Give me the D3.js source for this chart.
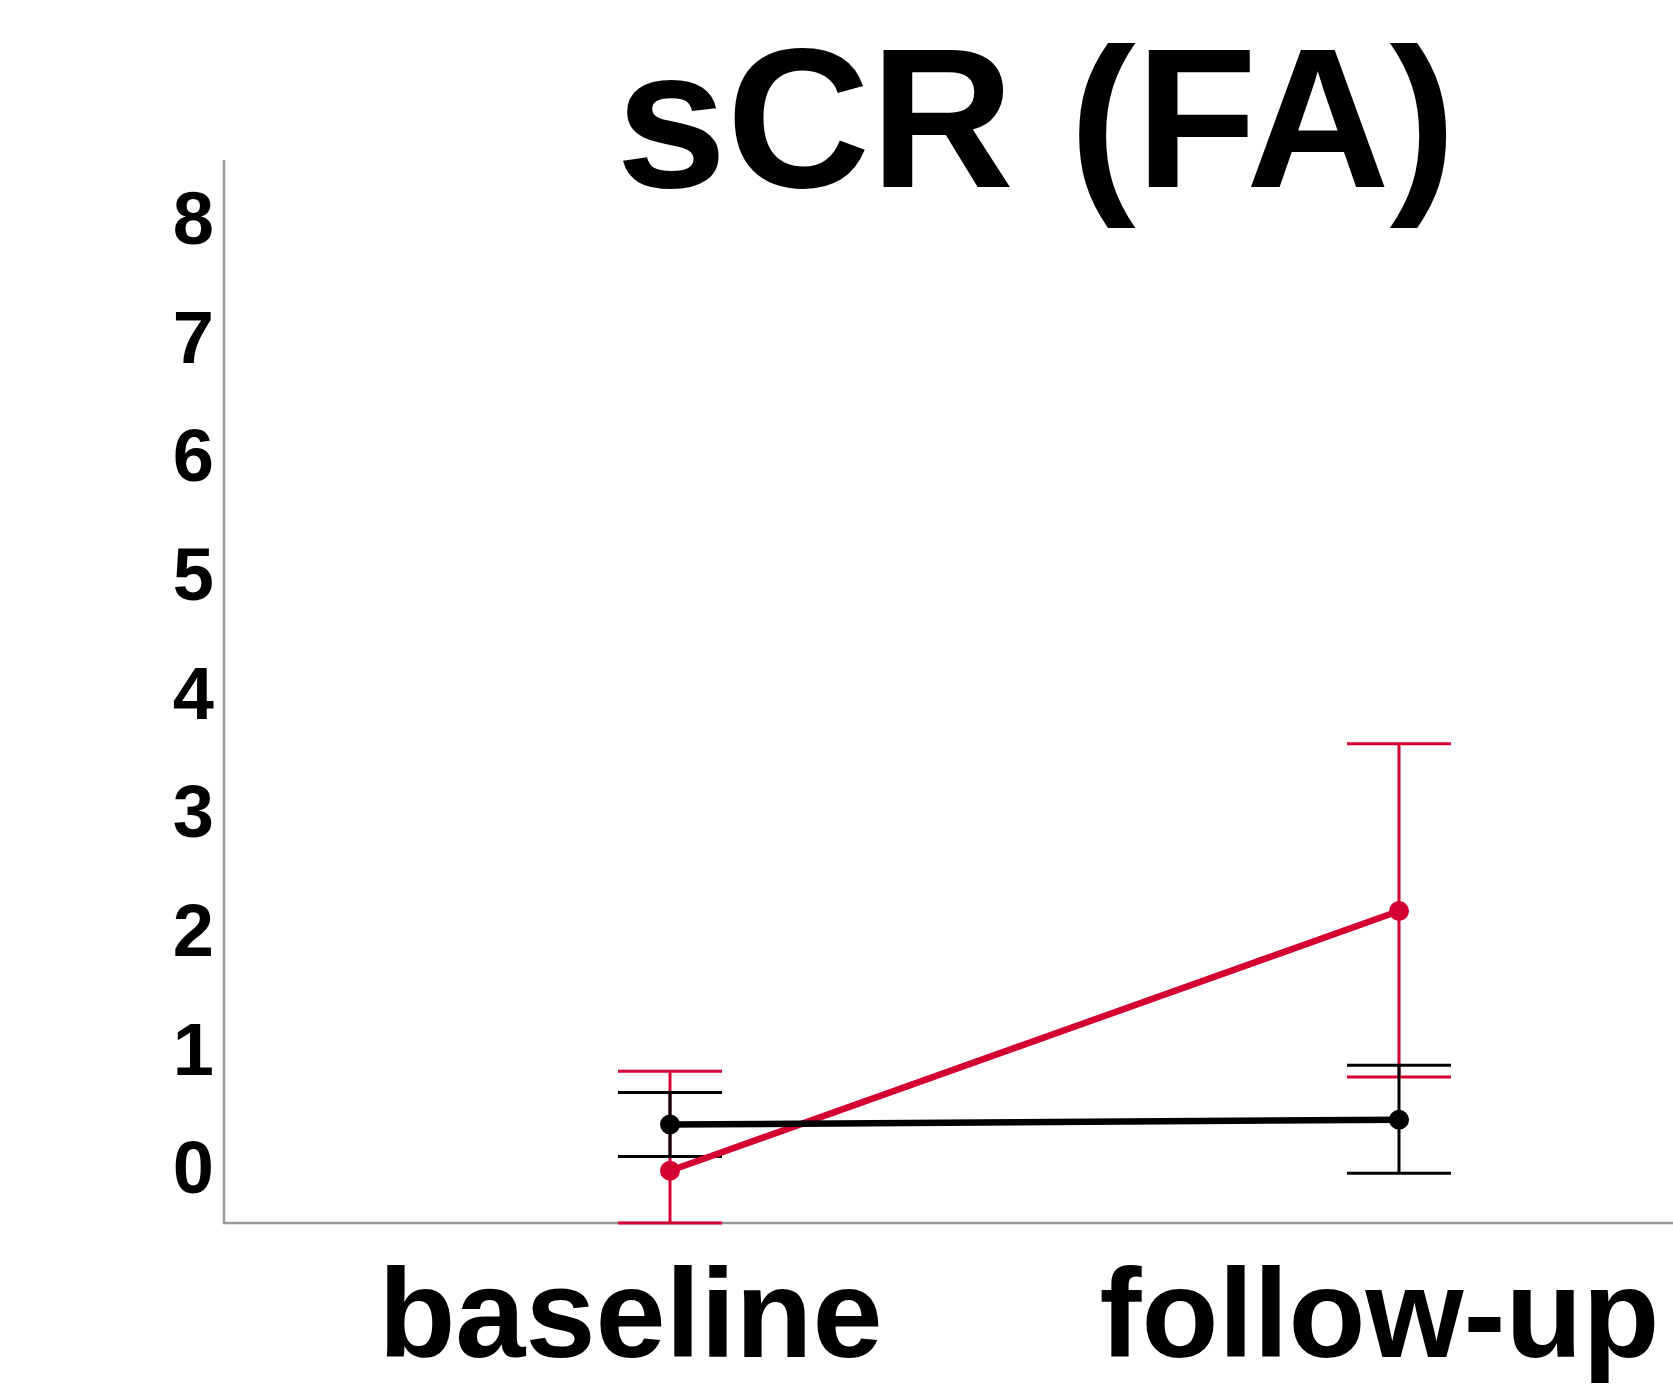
<!DOCTYPE html>
<html>
<head>
<meta charset="utf-8">
<title>sCR (FA)</title>
<script src="https://cdn.jsdelivr.net/npm/d3@7"></script>
<style>
  html, body { margin: 0; padding: 0; background: #ffffff; }
  svg { display: block; }
  text { font-family: "Liberation Sans", Arial, Helvetica, sans-serif; font-weight: bold; fill: #000; }
</style>
</head>
<body>
<svg id="chart" width="1673" height="1391"></svg>
<script>
// Time points
const timepoints = ["baseline", "follow-up"];
// Group means (sCR, FA)
const blackMeans = [0.35, 0.39];
const redMeans   = [-0.04, 2.15];
// Error bar bounds
const blackLower = [0.08, -0.06];
const blackUpper = [0.62, 0.85];
const redLower   = [-0.48, 0.75];
const redUpper   = [0.80, 3.56];
// Y tick labels
const yTicks = [0, 1, 2, 3, 4, 5, 6, 7, 8];

const series = [
  { color: "#d50032", means: redMeans, lower: redLower, upper: redUpper },
  { color: "#000000", means: blackMeans, lower: blackLower, upper: blackUpper }
];

const svg = d3.select("#chart");
const plotLeft = 224, plotRight = 1673, plotTop = 160, plotBottom = 1223;

const x = d3.scalePoint().domain(timepoints).range([670, 1399]);
const y = d3.scaleLinear().domain([-0.48, 8.48]).range([plotBottom, plotTop]);

// Title
svg.append("text")
  .attr("x", 1036).attr("y", 187)
  .attr("text-anchor", "middle")
  .style("font-size", "199px")
  .text("sCR (FA)");

// Y tick labels
const yAxis = d3.axisLeft(y).tickValues(yTicks).tickSize(0).tickPadding(0).tickFormat(d3.format("d"));
const gy = svg.append("g").attr("transform", `translate(${plotLeft - 10},0)`).call(yAxis);
gy.select(".domain").remove();
gy.selectAll("text")
  .attr("font-family", null).attr("font-size", null).attr("fill", null)
  .attr("dy", "0.36em")
  .style("font-size", "74px");

// Category labels
const labelShift = { "baseline": -40, "follow-up": -20 };
const xAxis = d3.axisBottom(x).tickSize(0).tickPadding(0);
const gx = svg.append("g").attr("transform", `translate(0,${plotBottom})`).call(xAxis);
gx.select(".domain").remove();
gx.selectAll("text")
  .attr("font-family", null).attr("font-size", null).attr("fill", null)
  .attr("y", 134).attr("dy", 0)
  .attr("dx", d => labelShift[d])
  .style("font-size", "126px");

// Axis lines
svg.append("path")
  .attr("d", `M${plotLeft},${plotTop}V${plotBottom}H${plotRight}`)
  .attr("fill", "none").attr("stroke", "#999999").attr("stroke-width", 2.5);

// Error bars
const capHalf = 52;
series.forEach(s => {
  const g = svg.append("g");
  timepoints.forEach((t, i) => {
    const cx = x(t);
    g.append("line")
      .attr("x1", cx).attr("x2", cx)
      .attr("y1", y(s.lower[i])).attr("y2", y(s.upper[i]))
      .attr("stroke", s.color).attr("stroke-width", 3);
    [s.lower[i], s.upper[i]].forEach(v => {
      g.append("line")
        .attr("x1", cx - capHalf).attr("x2", cx + capHalf)
        .attr("y1", y(v)).attr("y2", y(v))
        .attr("stroke", s.color).attr("stroke-width", 3);
    });
  });
});

// Mean lines and markers
series.forEach(s => {
  const g = svg.append("g");
  const line = d3.line().x((d, i) => x(timepoints[i])).y(d => y(d));
  g.append("path")
    .datum(s.means)
    .attr("d", line)
    .attr("fill", "none").attr("stroke", s.color).attr("stroke-width", 6.5);
  g.selectAll("circle").data(s.means).join("circle")
    .attr("cx", (d, i) => x(timepoints[i]))
    .attr("cy", d => y(d))
    .attr("r", 10)
    .attr("fill", s.color);
});
</script>
</body>
</html>
